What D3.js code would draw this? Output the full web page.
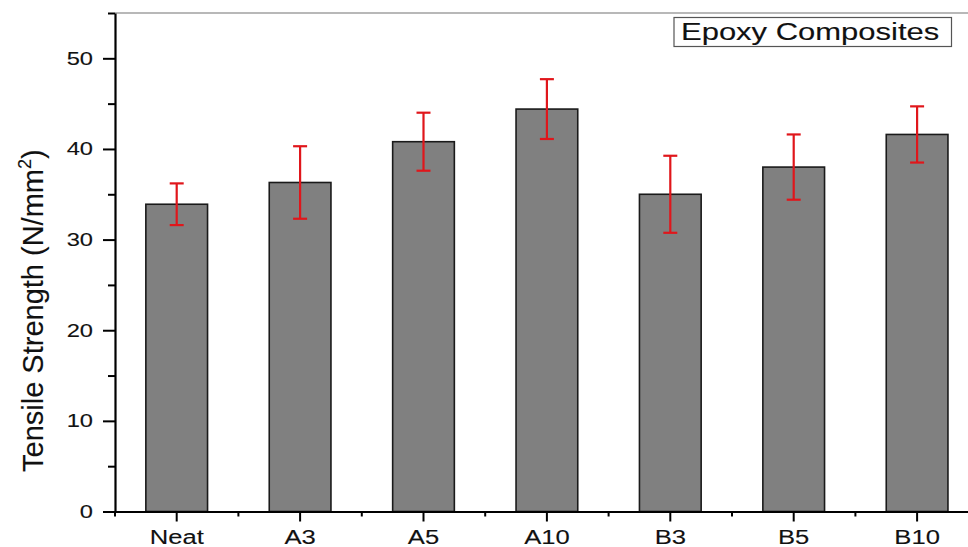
<!DOCTYPE html>
<html>
<head>
<meta charset="utf-8">
<script src="https://cdn.jsdelivr.net/npm/d3@7"></script>
<style>
    html, body { margin: 0; padding: 0; background: #fff; }
    svg { display: block; font-family: "Liberation Sans", Arial, sans-serif; }
    svg text { fill: #111; stroke: #111; stroke-width: 0.12px; }
</style>
</head>
<body>
<div id="chart"></div>
<script>
// values
var categories = ["Neat", "A3", "A5", "A10", "B3", "B5", "B10"];
var strength = [33.9, 36.3, 40.8, 44.4, 35.0, 38.0, 41.6];
var strengthErr = [2.3, 4.0, 3.2, 3.3, 4.25, 3.6, 3.1];
var yMajorTicks = [0, 10, 20, 30, 40, 50];
var yMinorTicks = [5, 15, 25, 35, 45, 55];
var legendLabel = "Epoxy Composites";

var width = 968, height = 547;
var plot = { left: 115, top: 13, bottom: 511.5 };
var stretch = 1.28;   // the source picture is stretched sideways

var svg = d3.select("#chart").append("svg")
    .attr("width", width)
    .attr("height", height);

var x = d3.scaleBand()
    .domain(categories)
    .range([plot.left, plot.left + 7 * 123.4])
    .paddingInner(0.5)
    .paddingOuter(0.25);

var y = d3.scaleLinear()
    .domain([0, 55])
    .range([plot.bottom, plot.top]);

function widen(sel, k) {
    sel.each(function () {
        var w = this.getComputedTextLength();
        this.setAttribute("textLength", w * k);
        this.setAttribute("lengthAdjust", "spacingAndGlyphs");
    });
}

// top frame line
svg.append("line")
    .attr("x1", plot.left).attr("x2", width)
    .attr("y1", y(55)).attr("y2", y(55))
    .attr("stroke", "#a0a0a0")
    .attr("stroke-width", 1.5);

// bars
var data = categories.map(function (c, i) {
    return { name: c, value: strength[i], err: strengthErr[i] };
});

svg.append("g")
    .selectAll("rect")
    .data(data)
    .enter().append("rect")
    .attr("x", function (d) { return x(d.name); })
    .attr("y", function (d) { return y(d.value); })
    .attr("width", x.bandwidth())
    .attr("height", function (d) { return y(0) - y(d.value); })
    .attr("fill", "#808080")
    .attr("stroke", "#1a1a1a")
    .attr("stroke-width", 1.6);

// error bars
var eb = svg.append("g")
    .attr("stroke", "#e0161b")
    .attr("stroke-width", 2.2)
    .selectAll("g")
    .data(data)
    .enter().append("g")
    .attr("transform", function (d) { return "translate(" + (x(d.name) + x.bandwidth() / 2) + ",0)"; });

eb.append("line")
    .attr("y1", function (d) { return y(d.value - d.err); })
    .attr("y2", function (d) { return y(d.value + d.err); });
eb.append("line")
    .attr("x1", -7).attr("x2", 7)
    .attr("y1", function (d) { return y(d.value + d.err); })
    .attr("y2", function (d) { return y(d.value + d.err); });
eb.append("line")
    .attr("x1", -7).attr("x2", 7)
    .attr("y1", function (d) { return y(d.value - d.err); })
    .attr("y2", function (d) { return y(d.value - d.err); });

// y axis
var yAxis = d3.axisLeft(y)
    .tickValues(yMajorTicks)
    .tickSize(12)
    .tickSizeOuter(0)
    .tickPadding(10)
    .tickFormat(d3.format("d"));

var gy = svg.append("g")
    .attr("transform", "translate(" + plot.left + ",0)")
    .call(yAxis);
gy.select(".domain").attr("stroke", "#000").attr("stroke-width", 2.2);
gy.selectAll(".tick line").attr("stroke", "#000").attr("stroke-width", 2);
gy.selectAll(".tick text")
    .attr("font-size", 18.5)
    .attr("font-family", "Liberation Sans, Arial, sans-serif")
    .call(widen, stretch);

svg.append("g")
    .attr("transform", "translate(" + plot.left + ",0)")
    .call(d3.axisLeft(y).tickValues(yMinorTicks).tickSize(7).tickFormat(""))
    .call(function (g) { g.select(".domain").remove(); })
    .selectAll(".tick line").attr("stroke", "#000").attr("stroke-width", 2);

// x axis
var xAxis = d3.axisBottom(x)
    .tickSize(10)
    .tickSizeOuter(0)
    .tickPadding(8);

var gx = svg.append("g")
    .attr("transform", "translate(0," + y(0) + ")")
    .call(xAxis);
gx.select(".domain").attr("stroke", "#000").attr("stroke-width", 2.2);
gx.selectAll(".tick line").attr("stroke", "#000").attr("stroke-width", 2);
gx.selectAll(".tick text")
    .attr("font-size", 20)
    .attr("font-family", "Liberation Sans, Arial, sans-serif")
    .call(widen, stretch);

// minor x ticks sit between the categories
var step = x.step();
var xMinor = d3.range(categories.length + 1).map(function (i) { return plot.left + i * step; });
svg.append("g")
    .selectAll("line")
    .data(xMinor)
    .enter().append("line")
    .attr("x1", function (d) { return d; })
    .attr("x2", function (d) { return d; })
    .attr("y1", y(0))
    .attr("y2", y(0) + 5)
    .attr("stroke", "#000")
    .attr("stroke-width", 2);

// y title
var title = svg.append("text")
    .attr("transform", "translate(43,472) rotate(-90)")
    .attr("font-size", 29);
title.append("tspan").text("Tensile Strength (N/mm");
title.append("tspan").attr("font-size", 18).attr("dy", -12).text("2");
title.append("tspan").attr("dy", 12).text(")");

// legend box
svg.append("rect")
    .attr("x", 674).attr("y", 17.5)
    .attr("width", 277.5).attr("height", 29)
    .attr("fill", "#fff")
    .attr("stroke", "#555")
    .attr("stroke-width", 1.2);

svg.append("text")
    .attr("x", 681).attr("y", 39.5)
    .attr("font-size", 23.5)
    .text(legendLabel)
    .call(widen, 261 / 198);
</script>
</body>
</html>
